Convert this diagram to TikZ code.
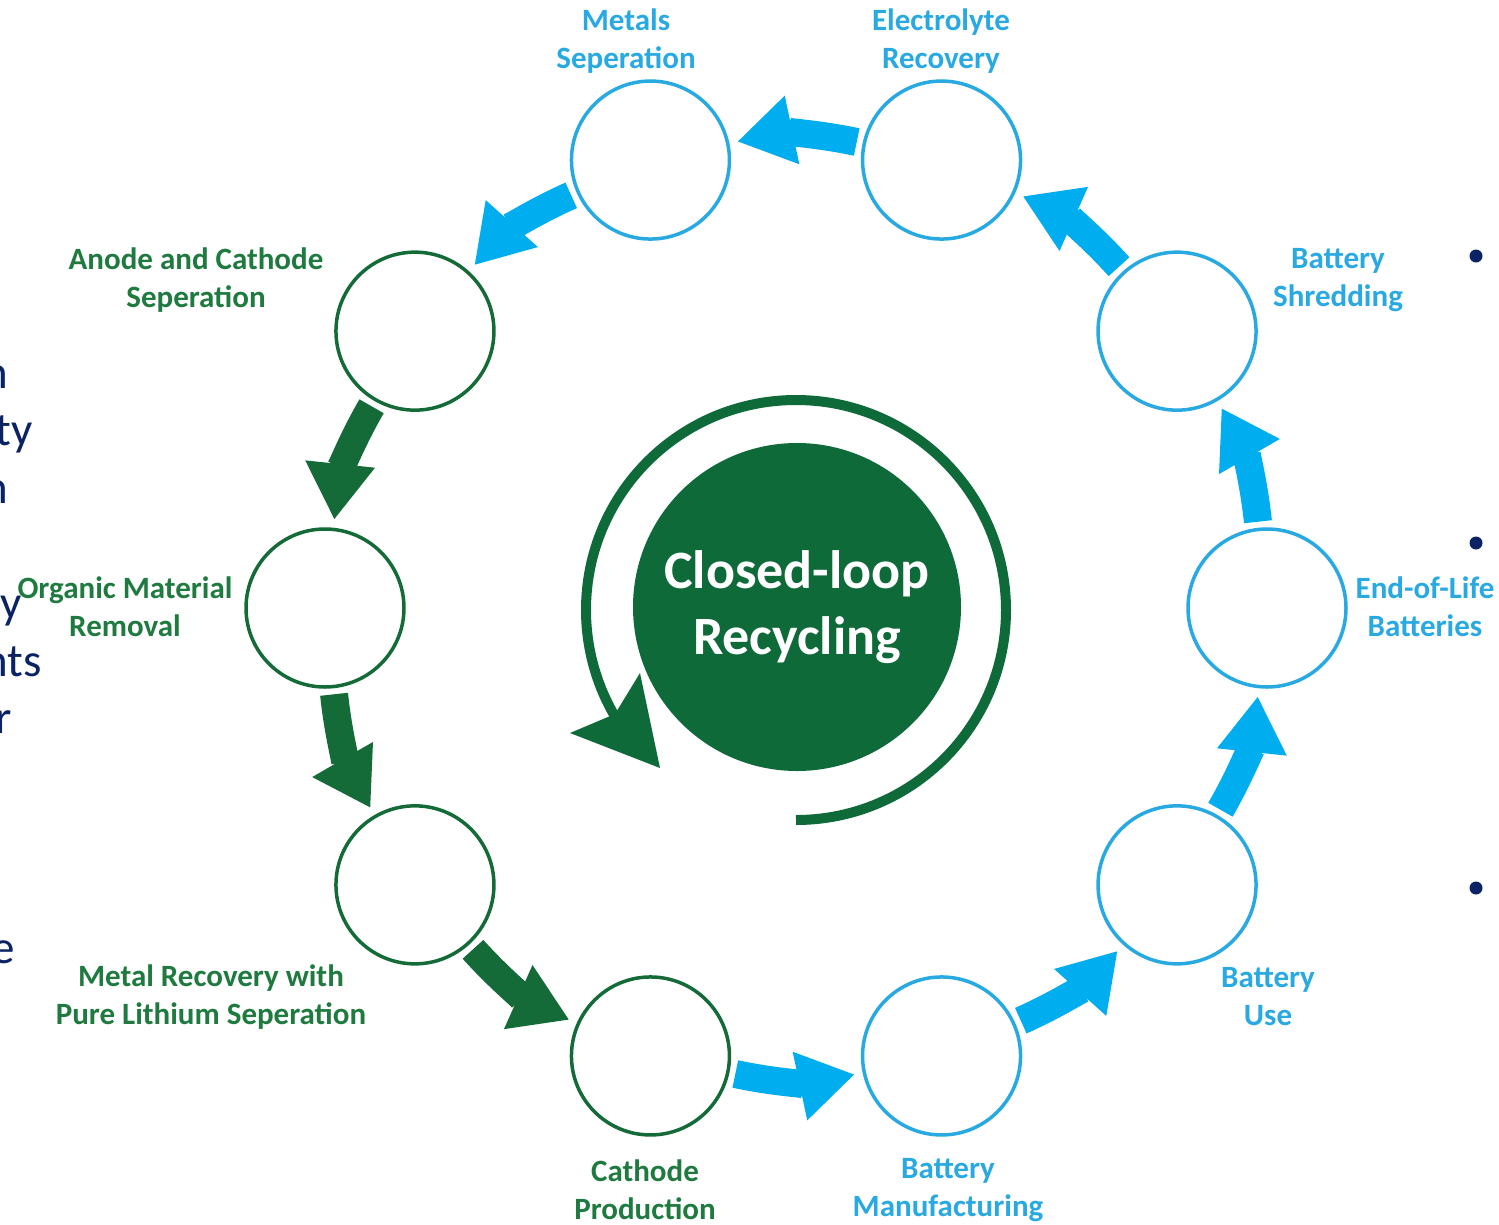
\documentclass[tikz,border=0pt]{standalone}
\usepackage{fontspec}
\setmainfont{Carlito}
\usetikzlibrary{arrows.meta,calc}
\definecolor{lblue}{HTML}{29A9E1}
\definecolor{ablue}{HTML}{00ADEF}
\definecolor{dgreen}{HTML}{146B38}
\definecolor{lgreen}{HTML}{1F7A3F}
\definecolor{cgreen}{HTML}{0F6A39}
\definecolor{navy}{HTML}{0B2265}
\begin{document}
\begin{tikzpicture}[x=1pt,y=1pt,
  stage/.style={circle, draw, line width=3.5pt, minimum size=158pt, inner sep=0pt},
  bstage/.style={stage, draw=lblue},
  gstage/.style={stage, draw=dgreen},
  lbl/.style={font=\fontsize{31}{38}\selectfont\bfseries, align=center, inner sep=0pt},
  blbl/.style={lbl, text=lblue},
  glbl/.style={lbl, text=lgreen},
  flow/.style={line width=28pt, -{Triangle[width=66pt,length=56pt]}, shorten <=6pt, shorten >=8pt},
  bflow/.style={flow, draw=ablue},
  gflow/.style={flow, draw=dgreen},
  frag/.style={font=\fontsize{47}{57}\selectfont, text=navy, anchor=base east, inner sep=0pt},
]
\path[use as bounding box] (0,0) rectangle (1499,-1224);
\clip (0,0) rectangle (1499,-1224);

\coordinate (C) at (796,-608);
% stages
\node[bstage] (eol)    at ($(C)+(0:471)$)   {};
\node[bstage] (shred)  at ($(C)+(36:471)$)  {};
\node[bstage] (elec)   at ($(C)+(72:471)$)  {};
\node[bstage] (metals) at ($(C)+(108:471)$) {};
\node[gstage] (anode)  at ($(C)+(144:471)$) {};
\node[gstage] (organic) at ($(C)+(180:471)$) {};
\node[gstage] (metrec) at ($(C)+(216:471)$) {};
\node[gstage] (cathode) at ($(C)+(252:471)$) {};
\node[bstage] (manuf)  at ($(C)+(288:471)$) {};
\node[bstage] (use)    at ($(C)+(324:471)$) {};

% flow arrows
\draw[bflow] (eol) to[bend right=12] (shred);
\draw[bflow] (shred) to[bend right=12] (elec);
\draw[bflow] (elec) to[bend right=12] (metals);
\draw[bflow] (metals) to[bend right=12] (anode);
\draw[gflow] (anode) to[bend right=12] (organic);
\draw[gflow] (organic) to[bend right=12] (metrec);
\draw[gflow] (metrec) to[bend right=12] (cathode);
\draw[bflow] (cathode) to[bend right=12] (manuf);
\draw[bflow] (manuf) to[bend right=12] (use);
\draw[bflow] (use) to[bend right=12] (eol);

% labels
\node[blbl] (lmetals) at (626,-41) {Metals\\Seperation};
\node[blbl] (lelec) at (941,-41) {Electrolyte\\Recovery};
\node[blbl] (lshred) at (1338,-280) {Battery\\Shredding};
\node[blbl] (leol) at (1425,-607) {End-of-Life\\Batteries};
\node[blbl] (luse) at (1268,-997) {Battery\\Use};
\node[blbl] (lmanuf) at (948,-1190) {Battery\\Manufacturing};
\node[glbl] (lcathode) at (645,-1190) {Cathode\\Production};
\node[glbl] (lmetrec) at (211,-997) {Metal Recovery with\\Pure Lithium Seperation};
\node[glbl] (lorganic) at (125,-607) {Organic Material\\Removal};
\node[glbl] (lanode) at (196,-280) {Anode and Cathode\\Seperation};

% center
\coordinate (rc) at (796,-610);
\draw[cgreen, line width=10pt] ([shift={(-90:210)}]rc) arc[start angle=-90, end angle=212, radius=210];
\fill[cgreen] (660,-768) -- (570,-733) -- (615,-714) -- (640,-673) -- cycle;
\node[circle, fill=cgreen, minimum size=328pt, inner sep=0pt, text=white,
      font=\fontsize{54}{66}\selectfont\bfseries, align=center] (core) at (797,-607) {Closed-loop\\Recycling};

% cut-off slide text at the left edge
\node[frag] (f1) at (8,-388) {n};
\node[frag] (f2) at (33,-445) {ty};
\node[frag] (f3) at (8,-503) {n};
\node[frag] (f4) at (22,-618) {y};
\node[frag] (f5) at (42,-676) {nts};
\node[frag] (f6) at (12,-733) {r};
\node[frag] (f7) at (15,-963) {e};

% bullets at the right edge
\fill[navy] (1476,-256) circle (6.5);
\fill[navy] (1476,-543) circle (6.5);
\fill[navy] (1476,-888) circle (6.5);
\end{tikzpicture}
\end{document}
